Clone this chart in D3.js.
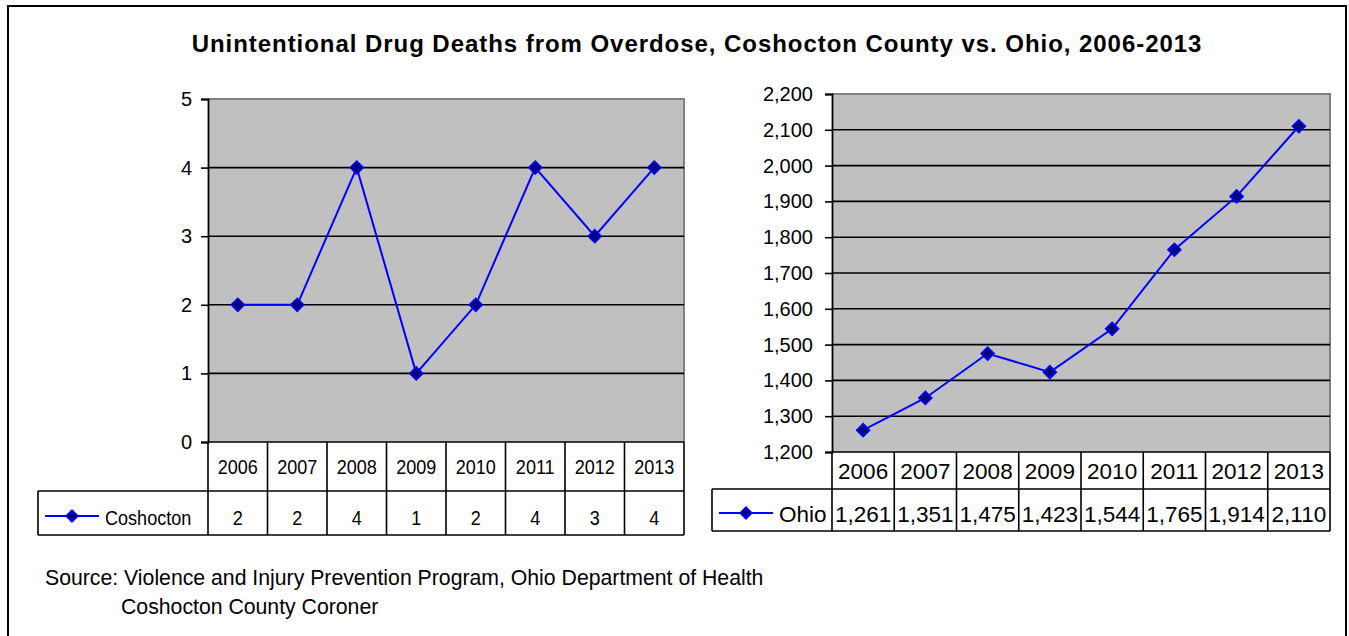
<!DOCTYPE html>
<html><head><meta charset="utf-8">
<script src="https://cdn.jsdelivr.net/npm/d3@7"></script>
<style>
body{margin:0;background:#fff;}
svg{display:block;font-family:"Liberation Sans",Arial,sans-serif;}
</style></head>
<body>
<svg id="c" width="1349" height="636"></svg>
<script>
const years = ["2006","2007","2008","2009","2010","2011","2012","2013"];
const coshocton = [2,2,4,1,2,4,3,4];
const ohio = [1261,1351,1475,1423,1544,1765,1914,2110];
const leftTicks = [0,1,2,3,4,5];
const rightTicks = [1200,1300,1400,1500,1600,1700,1800,1900,2000,2100,2200];
const title = "Unintentional Drug Deaths from Overdose, Coshocton County vs. Ohio, 2006-2013";
const source1 = "Source: Violence and Injury Prevention Program, Ohio Department of Health";
const source2 = "Coshocton County Coroner";

const svg = d3.select("#c");
svg.append("rect").attr("x",8).attr("y",6).attr("width",1338).attr("height",660)
  .attr("fill","#fff").attr("stroke","#000").attr("stroke-width",2);

svg.append("text").attr("x",697).attr("y",52).attr("text-anchor","middle")
  .attr("font-weight","bold").attr("font-size",24).attr("letter-spacing",0.95).text(title);

function ctext(sel, x, y, str, size, sx, anchor){
  return sel.append("text").attr("transform",`translate(${x},${y}) scale(${sx},1)`)
    .attr("text-anchor",anchor||"start").attr("font-size",size).text(str);
}

function panel(o){
  const g = svg.append("g");
  const x = d3.scaleBand().domain(years).range([o.x0,o.x1]).padding(0);
  const y = d3.scaleLinear().domain(o.domain).range([o.y1,o.y0]);
  const cx = d=>x(d)+x.bandwidth()/2;
  g.append("rect").attr("x",o.x0).attr("y",o.y0).attr("width",o.x1-o.x0).attr("height",o.y1-o.y0)
    .attr("fill","#c0c0c0");
  g.append("path").attr("d",`M${o.x0},${o.y0}H${o.x1}V${o.y1}`).attr("fill","none")
    .attr("stroke","#808080").attr("stroke-width",2);
  g.selectAll(".grid").data(o.ticks.slice(1,-1)).join("line")
    .attr("x1",o.x0).attr("x2",o.x1).attr("y1",d=>y(d)).attr("y2",d=>y(d))
    .attr("stroke","#000").attr("stroke-width",1.6);
  const ax = g.append("g").attr("transform",`translate(${o.x0},0)`)
    .call(d3.axisLeft(y).tickValues(o.ticks).tickSize(7).tickPadding(o.pad).tickFormat(o.fmt));
  ax.select(".domain").attr("stroke","#000").attr("stroke-width",1.8);
  ax.selectAll(".tick line").attr("stroke","#000").attr("stroke-width",1.6);
  ax.selectAll("text").attr("font-size",o.tfs).attr("font-family","Liberation Sans, Arial, sans-serif").attr("fill","#000");
  const tg = g.append("g");
  const sw = 1.6;
  const hl = (x1,x2,yy)=>tg.append("line").attr("x1",x1).attr("x2",x2).attr("y1",yy).attr("y2",yy).attr("stroke","#000").attr("stroke-width",sw);
  hl(o.x0,o.x1,o.y1); hl(o.lx,o.x1,o.r1); hl(o.lx,o.x1,o.r2);
  tg.append("line").attr("x1",o.lx).attr("x2",o.lx).attr("y1",o.r1).attr("y2",o.r2).attr("stroke","#000").attr("stroke-width",sw);
  const edges = years.map(d=>x(d)).concat([o.x1]);
  tg.selectAll(".vl").data(edges).join("line")
    .attr("x1",d=>d).attr("x2",d=>d).attr("y1",o.y1).attr("y2",o.r2)
    .attr("stroke","#000").attr("stroke-width",sw);
  years.forEach(d=>ctext(tg, cx(d), (o.y1+o.r1)/2+o.cfs*0.36, d, o.cfs, o.csx, "middle"));
  const ty = (o.r1+o.r2)/2+o.cfs*0.36+4;
  o.values.forEach((v,i)=>ctext(tg, cx(years[i]), ty, d3.format(",")(v), o.cfs, o.csx, "middle"));
  const ly = (o.r1+o.r2)/2+3;
  tg.append("line").attr("x1",o.lx+7).attr("x2",o.lx+61).attr("y1",ly).attr("y2",ly).attr("stroke","#0000ff").attr("stroke-width",2);
  tg.append("path").attr("d",d3.symbol(d3.symbolSquare,70)()).attr("transform",`translate(${o.lx+34},${ly}) rotate(45)`)
    .attr("fill","#000080").attr("stroke","#0000ff").attr("stroke-width",1.5);
  ctext(tg, o.lx+67, ty, o.name, o.cfs, o.csx);
  const line = d3.line().x((d,i)=>cx(years[i])).y(d=>y(d));
  g.append("path").datum(o.values).attr("d",line).attr("fill","none").attr("stroke","#0000ff").attr("stroke-width",2);
  g.selectAll(".mk").data(o.values).join("path")
    .attr("d",d3.symbol(d3.symbolSquare,85)())
    .attr("transform",(d,i)=>`translate(${cx(years[i])},${y(d)}) rotate(45)`)
    .attr("fill","#000080").attr("stroke","#0000ff").attr("stroke-width",1.5);
}

panel({x0:208,x1:684,y0:99,y1:442,r1:491,r2:535,lx:38,domain:[0,5],ticks:leftTicks,
  fmt:d3.format("d"),pad:9,tfs:20,cfs:21,csx:0.86,values:coshocton,name:"Coshocton"});
panel({x0:832,x1:1330,y0:94,y1:452,r1:489,r2:531,lx:712,domain:[1200,2200],ticks:rightTicks,
  fmt:d3.format(","),pad:12,tfs:20,cfs:22.5,csx:1,values:ohio,name:"Ohio"});

ctext(svg, 45, 585, source1, 22, 0.966);
ctext(svg, 121, 614, source2, 22, 0.966);
</script>
</body></html>
